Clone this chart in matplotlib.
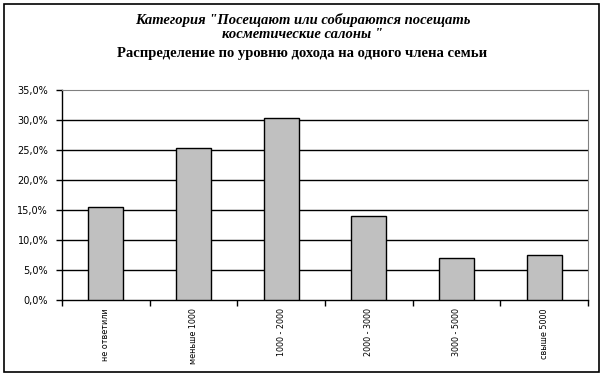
import matplotlib
matplotlib.use('Agg')
import matplotlib.pyplot as plt
from matplotlib.patches import Rectangle
from matplotlib.ticker import FuncFormatter

categories = ['не ответили', 'меньше 1000', '1000 - 2000', '2000 - 3000', '3000 - 5000', 'свыше 5000']
shares = [15.5, 25.4, 30.3, 14.0, 7.0, 7.5]
y_ticks = [0, 5, 10, 15, 20, 25, 30, 35]

W, H = 605, 378
fig = plt.figure(figsize=(W / 100, H / 100), dpi=100)
fig.patch.set_facecolor('white')

# outer frame of the chart area
fig.patches.append(Rectangle((4 / W, 1 - 372 / H), 595 / W, 368 / H, transform=fig.transFigure,
                             fill=False, edgecolor='black', linewidth=1.2))

ax = fig.add_axes([62 / W, 1 - 300 / H, 526 / W, 210 / H])
x = range(len(categories))
ax.bar(x, shares, width=0.4, color='#c0c0c0', edgecolor='black', linewidth=1.0, zorder=3)

ax.set_xlim(-0.5, len(categories) - 0.5)
ax.set_ylim(0, 35)
ax.set_yticks(y_ticks)
ax.yaxis.set_major_formatter(FuncFormatter(lambda v, p: f'{v:.1f}'.replace('.', ',') + '%'))
for t in y_ticks[1:-1]:
    ax.axhline(t, color='black', linewidth=1.0, zorder=1)

ax.set_xticks([i - 0.5 for i in range(len(categories) + 1)], minor=False)
ax.set_xticklabels([])
ax.set_xticks(list(x), minor=True)
ax.set_xticklabels(categories, minor=True, rotation=90, fontsize=5.8, va='top', ha='center',
                   family='DejaVu Sans')
ax.tick_params(axis='x', which='minor', length=0, pad=6)
ax.tick_params(axis='x', which='major', length=4, width=1, direction='out', color='black')
ax.tick_params(axis='y', length=4, width=1, direction='out', labelsize=7, pad=6)
for lbl in ax.get_yticklabels():
    lbl.set_family('DejaVu Sans')

ax.spines['left'].set_color('black')
ax.spines['bottom'].set_color('black')
ax.spines['left'].set_linewidth(1.0)
ax.spines['bottom'].set_linewidth(1.0)
ax.spines['top'].set_color('#808080')
ax.spines['right'].set_color('#808080')

fig.text(0.5, 1 - 20 / H, 'Категория "Посещают или собираются посещать',
         ha='center', va='center', fontsize=10.5, fontweight='bold', fontstyle='italic',
         family='Liberation Serif')
fig.text(0.5, 1 - 35 / H, 'косметические салоны "',
         ha='center', va='center', fontsize=10.5, fontweight='bold', fontstyle='italic',
         family='Liberation Serif')
fig.text(0.5, 1 - 53 / H, 'Распределение по уровню дохода на одного члена семьи',
         ha='center', va='center', fontsize=10.5, fontweight='bold',
         family='Liberation Serif')

fig.savefig('out.png', dpi=100)
